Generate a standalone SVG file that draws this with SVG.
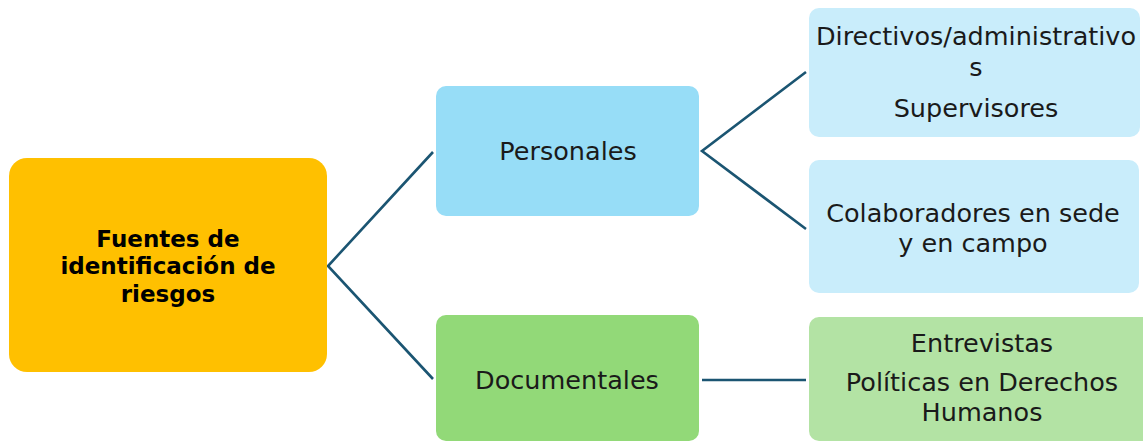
<svg xmlns="http://www.w3.org/2000/svg" width="1143" height="443" viewBox="0 0 1143 443">
<style>
text{font-family:"DejaVu Sans","Liberation Sans",sans-serif;fill:#1a1a1a;text-anchor:middle;font-size:25.5px}
.b{font-weight:bold;font-size:23px;fill:#000}
.c{fill:none;stroke:#1B5572;stroke-width:2.6}
</style>
<rect width="1143" height="443" fill="#fff"/>
<g id="connectors">
<polyline class="c" points="433,152 328,266 433,379"/>
<polyline class="c" points="806,72 702,151 806,229"/>
<line class="c" x1="702" y1="380" x2="806" y2="380"/>
</g>
<g id="root">
<rect x="9" y="158" width="318" height="214" rx="18" fill="#FFC000"/>
<text class="b" x="168" y="247">Fuentes de</text>
<text class="b" x="168" y="274">identificación de</text>
<text class="b" x="168" y="302">riesgos</text>
</g>
<g id="personales">
<rect x="436" y="86" width="263" height="130" rx="10" fill="#97DDF7"/>
<text x="568" y="160">Personales</text>
</g>
<g id="documentales">
<rect x="436" y="315" width="263" height="126" rx="10" fill="#92D978"/>
<text x="567" y="389">Documentales</text>
</g>
<g id="directivos">
<rect x="809" y="8" width="331" height="129" rx="10" fill="#C9EDFB"/>
<text x="976" y="45">Directivos/administrativo</text>
<text x="976" y="76">s</text>
<text x="976" y="117">Supervisores</text>
</g>
<g id="colaboradores">
<rect x="809" y="160" width="330" height="133" rx="10" fill="#C9EDFB"/>
<text x="973" y="222">Colaboradores en sede</text>
<text x="973" y="252">y en campo</text>
</g>
<g id="entrevistas">
<rect x="809" y="317" width="345" height="124" rx="10" fill="#B3E3A4"/>
<text x="982" y="352">Entrevistas</text>
<text x="982" y="391">Políticas en Derechos</text>
<text x="982" y="421">Humanos</text>
</g>
</svg>
